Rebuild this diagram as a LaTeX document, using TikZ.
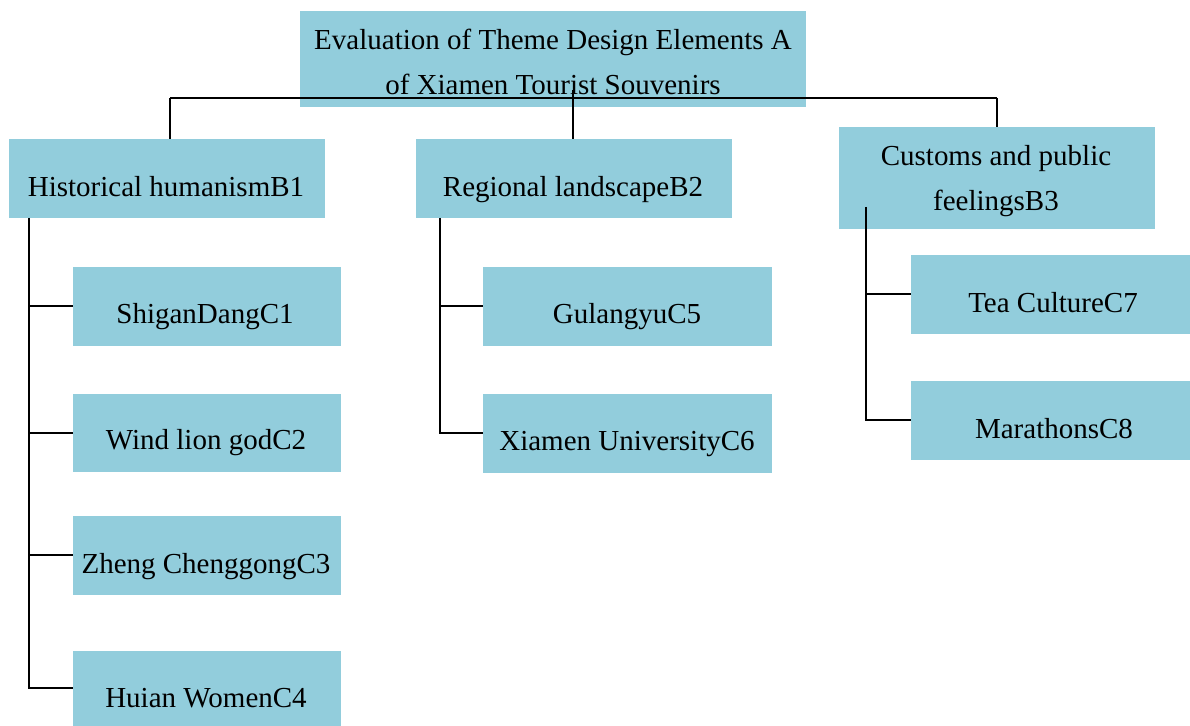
\documentclass[tikz,border=0pt]{standalone}
\usepackage{fontspec}
\setmainfont{Liberation Serif}
\usetikzlibrary{fit}
\definecolor{boxfill}{HTML}{92CDDC}
\begin{document}
\begin{tikzpicture}[x=0.5pt,y=-0.5pt,
  box/.style={fill=boxfill, draw=none, inner sep=0pt, outer sep=0pt},
  lbl/.style={anchor=base, inner sep=0pt, font=\fontsize{14.5}{17}\selectfont},
  conn/.style={draw=black, line width=1pt}]
\useasboundingbox (0,0) rectangle (1190,726);
% boxes
\node[box, fit={(300,11) (806,107)}] (A) {};
\node[box, fit={(9,139) (325,218)}] (B1) {};
\node[box, fit={(416,139) (732,218)}] (B2) {};
\node[box, fit={(839,127) (1155,229)}] (B3) {};
\node[box, fit={(73,267) (341,346)}] (C1) {};
\node[box, fit={(73,394) (341,472)}] (C2) {};
\node[box, fit={(73,516) (341,595)}] (C3) {};
\node[box, fit={(73,651) (341,726)}] (C4) {};
\node[box, fit={(483,267) (772,346)}] (C5) {};
\node[box, fit={(483,394) (772,473)}] (C6) {};
\node[box, fit={(911,255) (1190,334)}] (C7) {};
\node[box, fit={(911,381) (1190,460)}] (C8) {};
% texts
\node[lbl] (tA1) at (553,50) {Evaluation of Theme Design Elements A};
\node[lbl] (tA2) at (553,95) {of Xiamen Tourist Souvenirs};
\node[lbl] (tB1) at (166,197) {Historical humanismB1};
\node[lbl] (tB2) at (573,197) {Regional landscapeB2};
\node[lbl] (tB3a) at (996,166) {Customs and public};
\node[lbl] (tB3b) at (996,211) {feelingsB3};
\node[lbl] (tC1) at (205,324) {ShiganDangC1};
\node[lbl] (tC2) at (206,450) {Wind lion godC2};
\node[lbl] (tC3) at (206,574) {Zheng ChenggongC3};
\node[lbl] (tC4) at (206,708) {Huian WomenC4};
\node[lbl] (tC5) at (627,324) {GulangyuC5};
\node[lbl] (tC6) at (627,451) {Xiamen UniversityC6};
\node[lbl] (tC7) at (1053,313) {Tea CultureC7};
\node[lbl] (tC8) at (1054,439) {MarathonsC8};
% connectors
\coordinate (busL) at (170,98);
\coordinate (busR) at (997,98);
\coordinate (busM) at (573,90);
\coordinate (t1) at (29,218);
\coordinate (t2) at (440,218);
\coordinate (t3) at (866,207);
\draw[conn] (busL) -- (busR);
\draw[conn] (busL) -- (busL |- B1.north);
\draw[conn] (busM) -- (busM |- B2.north);
\draw[conn] (busR) -- (busR |- B3.north);
\draw[conn] (B1.south -| t1) |- (C4.west);
\draw[conn] (t1 |- C1.west) -- (C1.west);
\draw[conn] (t1 |- C2.west) -- (C2.west);
\draw[conn] (t1 |- C3.west) -- (C3.west);
\draw[conn] (B2.south -| t2) |- (C6.west);
\draw[conn] (t2 |- C5.west) -- (C5.west);
\draw[conn] (t3) |- (C8.west);
\draw[conn] (t3 |- C7.west) -- (C7.west);
\end{tikzpicture}
\end{document}
